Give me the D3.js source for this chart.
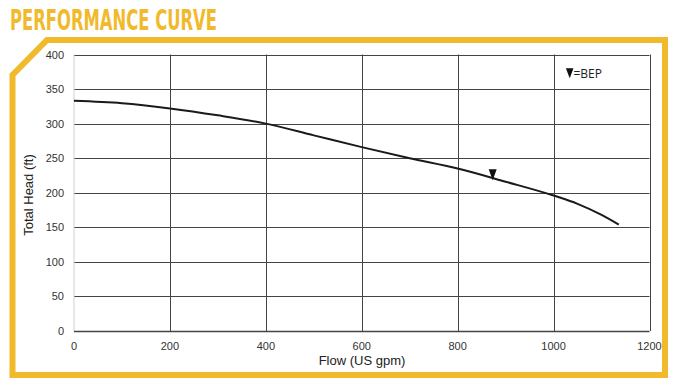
<!DOCTYPE html>
<html><head><meta charset="utf-8">
<script src="https://cdn.jsdelivr.net/npm/d3@7"></script>
<style>body{margin:0;background:#fff}svg{display:block}</style>
</head><body>
<svg id="c" width="680" height="385"></svg>
<script>
const flow = [0, 100, 200, 300, 400, 500, 600, 700, 800, 900, 1000, 1050, 1100, 1136];
const head = [333, 329.5, 322, 312, 300, 283, 266, 250, 235, 216, 196, 184, 168, 154];
const bepFlow = [873];
const bepHead = [226];
const xTicks = [0, 200, 400, 600, 800, 1000, 1200];
const yTicks = [0, 50, 100, 150, 200, 250, 300, 350, 400];

const svg = d3.select("#c");
const yellow = "#F0BA2C";
const x = d3.scaleLinear().domain([0, 1200]).range([74, 649.5]);
const y = d3.scaleLinear().domain([0, 400]).range([331, 54.5]);

// frame
svg.append("path")
  .attr("d", "M47,40 L665,40 L665,375 L12.5,375 L12.5,75 Z")
  .attr("fill", "none").attr("stroke", yellow).attr("stroke-width", 6).attr("stroke-linejoin", "miter");
svg.append("text").text("PERFORMANCE CURVE")
  .attr("x", 10).attr("y", 29.5)
  .attr("font-family", "Liberation Sans Narrow, DejaVu Sans Condensed, DejaVu Sans").attr("font-weight", "bold")
  .attr("font-size", 29).attr("fill", yellow)
  .attr("textLength", 207).attr("lengthAdjust", "spacingAndGlyphs");

// grid
const g = svg.append("g");
g.selectAll("line.h").data(yTicks.filter(d => d > 0)).join("line")
  .attr("x1", x(0)).attr("x2", x(1200)).attr("y1", d => Math.round(y(d)) + 0.5).attr("y2", d => Math.round(y(d)) + 0.5)
  .attr("stroke", "#444").attr("stroke-width", 1);
g.selectAll("line.v").data(xTicks.filter(d => d > 0)).join("line")
  .attr("y1", y(0)).attr("y2", y(400)).attr("x1", d => Math.round(x(d)) + 0.5).attr("x2", d => Math.round(x(d)) + 0.5)
  .attr("stroke", "#444").attr("stroke-width", 1);
g.append("line").attr("x1", x(0)).attr("x2", x(0)).attr("y1", y(0)).attr("y2", y(400))
  .attr("stroke", "#d0d0d0").attr("stroke-width", 1);
g.append("line").attr("x1", x(0)).attr("x2", x(1200)).attr("y1", Math.round(y(0)) + 0.5).attr("y2", Math.round(y(0)) + 0.5)
  .attr("stroke", "#444").attr("stroke-width", 1.3);

// tick labels
const font = "Liberation Sans, Arial, sans-serif";
svg.append("g").selectAll("text").data(yTicks).join("text")
  .attr("x", 64).attr("y", d => y(d) + 4).attr("text-anchor", "end")
  .attr("font-family", font).attr("font-size", 11).attr("fill", "#333").text(d => d);
svg.append("g").selectAll("text").data(xTicks).join("text")
  .attr("x", d => x(d)).attr("y", 350).attr("text-anchor", "middle")
  .attr("font-family", font).attr("font-size", 11).attr("fill", "#333").text(d => d);

// axis titles
svg.append("text").text("Flow (US gpm)").attr("x", 362).attr("y", 365).attr("text-anchor", "middle")
  .attr("font-family", font).attr("font-size", 13).attr("fill", "#222");
svg.append("text").text("Total Head (ft)").attr("transform", "translate(33,195) rotate(-90)").attr("text-anchor", "middle")
  .attr("font-family", font).attr("font-size", 13).attr("fill", "#222");

// curve
const pts = flow.map((f, i) => [f, head[i]]);
svg.append("path").datum(pts)
  .attr("d", d3.line().x(d => x(d[0])).y(d => y(d[1])).curve(d3.curveMonotoneX))
  .attr("fill", "none").attr("stroke", "#1a1a1a").attr("stroke-width", 2);

// BEP marker (downward triangle, 8 wide x 11 tall)
const triPath = "M-4,-5.5 L4,-5.5 L0,5.5 Z";
svg.selectAll("path.bep").data(bepFlow).join("path")
  .attr("d", triPath).attr("transform", (d, i) => `translate(${x(d)},${y(bepHead[i])})`)
  .attr("fill", "#111");

// legend
svg.append("path").attr("d", "M-3.8,-5 L3.8,-5 L0,5 Z").attr("transform", "translate(569.7,73.3)").attr("fill", "#111");
svg.append("text").text("=BEP").attr("x", 573.5).attr("y", 77.5)
  .attr("font-family", "Open Sans, DejaVu Sans, sans-serif").attr("font-size", 12).attr("fill", "#222");
</script>
</body></html>
